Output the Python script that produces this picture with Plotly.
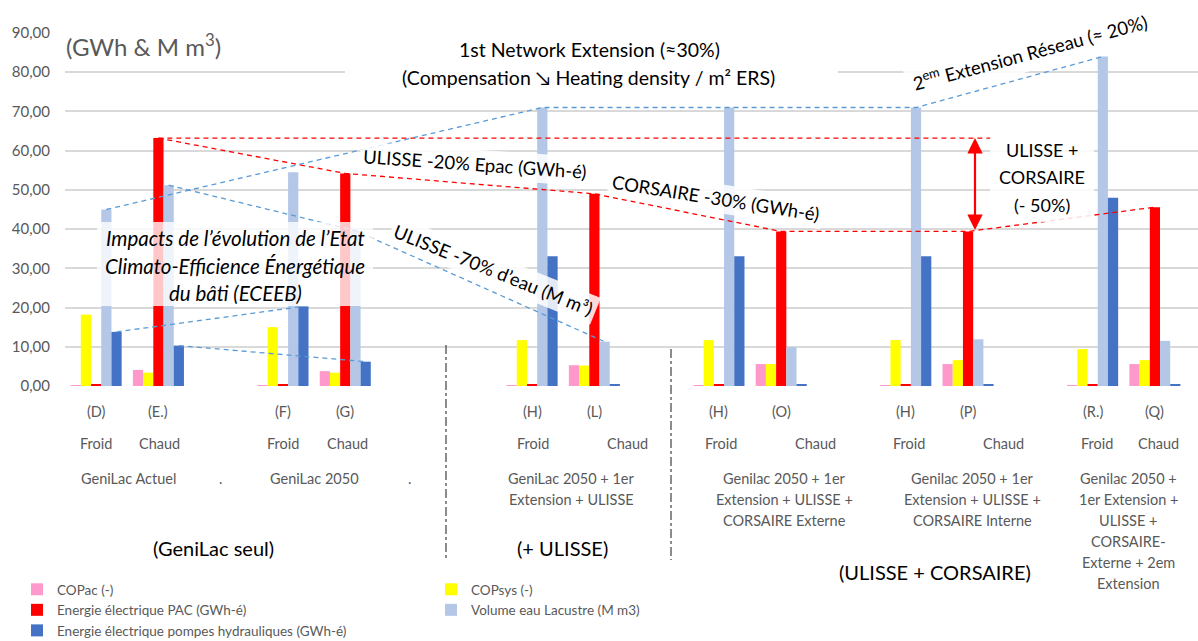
import plotly.graph_objects as go

# ---------------- data ----------------
codes = ["(D)", "(E.)", "(F)", "(G)", "(H)", "(L)", "(H)", "(O)", "(H)", "(P)", "(R.)", "(Q)"]
slots = [0, 1, 3, 4, 7, 8, 10, 11, 13, 14, 16, 17]          # position of each scenario on the axis
modes = ["Froid", "Chaud", "Froid", "Chaud", "Froid", "Chaud",
         "Froid", "Chaud", "Froid", "Chaud", "Froid", "Chaud"]

copac  = [0.2, 4.1, 0.2, 3.8, 0.2, 5.3, 0.2, 5.6, 0.2, 5.6, 0.2, 5.6]
copsys = [18.2, 3.4, 15.0, 3.4, 11.7, 5.2, 11.7, 5.6, 11.7, 6.6, 9.4, 6.6]
e_pac  = [0.3, 63.2, 0.3, 54.2, 0.3, 49.0, 0.3, 39.4, 0.3, 39.4, 0.3, 45.6]
vol    = [45.0, 51.2, 54.5, 39.6, 71.0, 11.3, 71.0, 9.9, 71.0, 11.9, 84.0, 11.5]
e_pump = [13.8, 10.3, 20.3, 6.2, 33.1, 0.5, 33.1, 0.5, 33.1, 0.5, 48.0, 0.5]

group_lines = [
    ["GeniLac Actuel"],
    ["."],
    ["GeniLac 2050"],
    ["."],
    ["GeniLac 2050 + 1er", "Extension + ULISSE"],
    ["Genilac 2050 + 1er", "Extension + ULISSE +", "CORSAIRE Externe"],
    ["Genilac 2050 + 1er", "Extension + ULISSE +", "CORSAIRE Interne"],
    ["Genilac 2050 +", "1er Extension +", "ULISSE +", "CORSAIRE-", "Externe + 2em", "Extension"],
]

series_names = ["COPac (-)", "COPsys (-)", "Energie électrique PAC (GWh-é)",
                "Volume eau Lacustre (M m3)", "Energie électrique pompes hydrauliques (GWh-é)"]
series_vals = [copac, copsys, e_pac, vol, e_pump]
series_cols = ["#FF99CC", "#FFFF00", "#FF0000", "#B4C7E7", "#4472C4"]

y_ticks = [0, 10, 20, 30, 40, 50, 60, 70, 80, 90]

# ---------------- layout geometry ----------------
W, H = 1198, 641
L, R, T, B = 65, 0, 33, 255
PW = W - L - R
PH = H - T - B
SLOT = 62.28                    # pixels per category slot
FONT = "Lato"
GREY = "#595959"
BARGAP = 0.18
BW = (1 - BARGAP) / 5          # width of one bar in axis units
LBL = 14.5


def fx(x):
    return (x - L) / PW


def fy(y):
    return (H - B - y) / PH


def xd(px):                     # pixel -> axis units
    return (px - L) / SLOT - 0.5


fig = go.Figure()

for name, vals, col in zip(series_names, series_vals, series_cols):
    fig.add_trace(go.Bar(
        name=name, x=slots, y=vals, marker=dict(color=col, line=dict(width=0)),
        hoverinfo="y+name",
    ))

# ---------------- dashed connecting lines ----------------
def seg(i_list, vals, offset, color, extra_x=None):
    xs = [slots[i] + offset for i in i_list]
    ys = [vals[i] for i in i_list]
    if extra_x is not None:
        xs.append(extra_x)
        ys.append(ys[-1])
    fig.add_trace(go.Scatter(
        x=xs, y=ys, mode="lines", showlegend=False, hoverinfo="skip",
        line=dict(color=color, width=1.3, dash="5px,4px"),
    ))


RED = "#FF0000"
BLUE = "#5B9BD5"
# red : electrical energy of heat pumps
seg([1], e_pac, 0, RED, extra_x=xd(993))
seg([1, 3, 5, 7, 9, 11], e_pac, 0, RED)
# blue : lake water volume
seg([0, 4, 8, 10], vol, BW, BLUE)
seg([1, 3, 5], vol, BW, BLUE)
# blue : pumps energy
seg([0, 2], e_pump, 2 * BW, BLUE)
seg([1, 3], e_pump, 2 * BW, BLUE)

# ---------------- annotations ----------------
ann = []
shapes = []


def note(text, x, y, size=LBL, color=GREY, **kw):
    d = dict(text=text, x=fx(x), y=fy(y), xref="paper", yref="paper", showarrow=False,
             font=dict(family=FONT, size=size, color=color),
             xanchor="center", yanchor="middle")
    d.update(kw)
    ann.append(d)


# category code row and Froid/Chaud row
mode_px = [96, 159, 283, 347, 533, 627, 721, 815, 909, 1003, 1097, 1158]
for s, c in zip(slots, codes):
    ann.append(dict(text=c, x=s, y=fy(411), xref="x", yref="paper", showarrow=False,
                    font=dict(family=FONT, size=LBL, color=GREY), yanchor="middle"))
for m, p in zip(modes, mode_px):
    note(m, p, 443)

group_px = [128, 220, 314, 409, 571, 784, 972, 1128]
for lines, p in zip(group_lines, group_px):
    for k, t in enumerate(lines):
        note(t, p, 479 + 20.8 * k)

# bottom big labels
note("(GeniLac seul)", 213, 548, size=20, color="#000000")
note("(+ ULISSE)", 562, 548, size=20, color="#000000")
note("(ULISSE + CORSAIRE)", 935, 572, size=20, color="#000000")

# unit label
note("(GWh &amp; M m<sup>3</sup>)", 143, 45, size=24, color=GREY)

# white glow boxes
def box(x0, y0, x1, y1, op):
    shapes.append(dict(type="rect", xref="paper", yref="paper",
                       x0=fx(x0), x1=fx(x1), y0=fy(y1), y1=fy(y0),
                       fillcolor="white", opacity=op, layer="above",
                       line=dict(width=0)))


box(345, 29, 838, 100, 0.95)
box(97, 222, 373, 306, 0.78)
box(990, 133, 1094, 222, 0.85)

note("1st Network Extension (≈30%)", 589, 49, size=19.5, color="#000000")
note("(Compensation ↘ Heating density / m² ERS)", 588, 77, size=19.5, color="#000000")

note("<i>Impacts de l’évolution de l’Etat</i>", 235, 238, size=20.5, color="#000000")
note("<i>Climato-Efficience Énergétique</i>", 235, 266, size=20.5, color="#000000")
note("<i>du bâti (ECEEB)</i>", 235, 293, size=20.5, color="#000000")

note("ULISSE +", 1042, 150, size=18, color="#000000")
note("CORSAIRE", 1042, 177, size=18, color="#000000")
note("(- 50%)", 1042, 205, size=18, color="#000000")

GLOW = "rgba(255,255,255,0.85)"
note("2<sup>em</sup> Extension Réseau (≈ 20%)", 1030, 52, size=18.5, color="#000000",
     textangle=-15, bgcolor=GLOW, borderpad=6)
note("ULISSE -20% Epac (GWh-é)", 475, 164, size=18.5, color="#000000",
     textangle=4, bgcolor=GLOW, borderpad=3)
note("CORSAIRE -30% (GWh-é)", 716, 198, size=18.5, color="#000000",
     textangle=9, bgcolor=GLOW, borderpad=3)
note("ULISSE -70% d’eau (M m³)", 493, 270, size=18.5, color="#000000",
     textangle=22, bgcolor=GLOW, borderpad=3)

# red double arrow (from E heat-pump energy down to P heat-pump energy)
ann.append(dict(text="", x=xd(975), y=e_pac[1], ax=xd(975), ay=e_pac[9],
                xref="x", yref="y", axref="x", ayref="y", showarrow=True,
                arrowside="end+start", arrowhead=2, arrowsize=1.4, arrowwidth=2.2,
                arrowcolor=RED, standoff=0, startstandoff=0))

# dash-dot separators
for p, top in [(446, 345), (671, 349)]:
    shapes.append(dict(type="line", xref="paper", yref="paper",
                       x0=fx(p), x1=fx(p), y0=fy(top), y1=fy(560),
                       line=dict(color="#404040", width=1.2, dash="dashdot")))

fig.update_layout(
    width=W, height=H,
    margin=dict(l=L, r=R, t=T, b=B, autoexpand=False),
    paper_bgcolor="white", plot_bgcolor="white",
    barmode="group", bargap=BARGAP, bargroupgap=0,
    separators=", ",
    font=dict(family=FONT, size=14, color=GREY),
    xaxis=dict(range=[-0.5, -0.5 + PW / SLOT], showticklabels=False, showgrid=False,
               zeroline=False, showline=False, ticks=""),
    yaxis=dict(range=[0, 90], tickvals=y_ticks, tickformat=".2f",
               showgrid=True, gridcolor="#D9D9D9", gridwidth=2,
               zeroline=False, showline=False, ticks="", ticklabelstandoff=14,
               tickfont=dict(family=FONT, size=15, color=GREY)),
    legend=dict(orientation="h", x=fx(17), y=fy(574), xanchor="left", yanchor="top",
                entrywidth=369, entrywidthmode="pixels", itemwidth=30,
                font=dict(family=FONT, size=13.5, color=GREY),
                bgcolor="rgba(0,0,0,0)", tracegroupgap=0, traceorder="normal"),
    annotations=ann,
    shapes=shapes,
    showlegend=True,
)

fig.write_html("out.html", config={"displayModeBar": False},
               post_script="document.body.style.margin='0px';")
